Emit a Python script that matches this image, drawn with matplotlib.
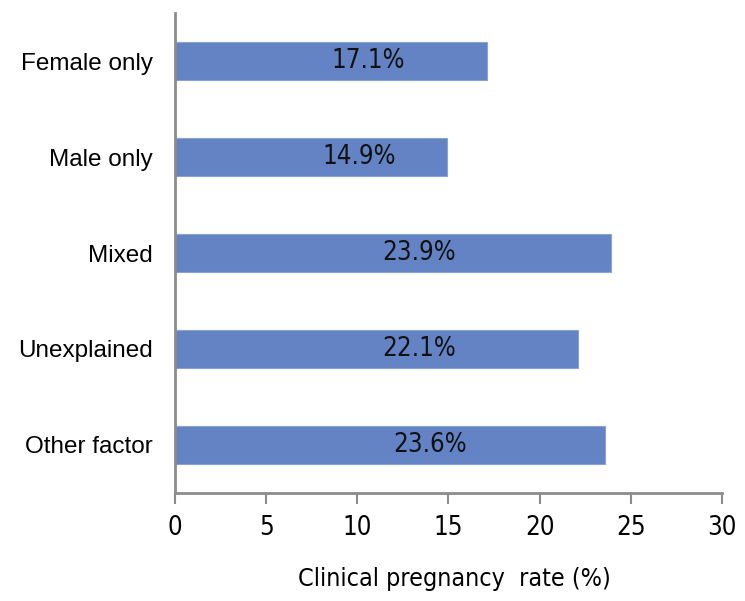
import matplotlib.pyplot as plt
from matplotlib import font_manager

categories = ["Female only", "Male only", "Mixed", "Unexplained", "Other factor"]
rates = [17.1, 14.9, 23.9, 22.1, 23.6]
xticks = [0, 5, 10, 15, 20, 25, 30]
# where the value labels sit inside the bars
label_x = [10.6, 10.1, 13.4, 13.4, 14.0]

cond = font_manager.FontProperties(family="DejaVu Sans", stretch="condensed", size=18.5)
cond_lbl = font_manager.FontProperties(family="DejaVu Sans", stretch="condensed", size=18)

fig = plt.figure(figsize=(7.45, 6.01), dpi=100)
ax = fig.add_axes([0.235, 0.18, 0.734, 0.798])

ypos = list(range(len(categories)))
ax.barh(ypos, rates, height=0.4, color="#6383c5", edgecolor="#8aa3d6", linewidth=0.8, zorder=2)

for y, v, lx in zip(ypos, rates, label_x):
    ax.text(lx, y, f"{v}%", ha="center", va="center", fontproperties=cond, color="#111111")

ax.set_xlim(0, 30)
ax.set_ylim(4.5, -0.5)
ax.set_xticks(xticks)
ax.set_xticklabels([str(t) for t in xticks], fontproperties=cond)
ax.set_yticks(ypos)
ax.set_yticklabels(categories, fontsize=17.5, family="Liberation Sans")
ax.tick_params(axis="y", length=0, pad=16)
ax.tick_params(axis="x", length=8, width=1.5, color="#8c8c8c", pad=8)
ax.set_xlabel("Clinical pregnancy  rate (%)", fontproperties=cond_lbl)
ax.xaxis.set_label_coords(0.51, -0.155)

for s in ["top", "right"]:
    ax.spines[s].set_visible(False)
for s in ["left", "bottom"]:
    ax.spines[s].set_color("#8c8c8c")
    ax.spines[s].set_linewidth(2)

fig.savefig("out.png", dpi=100)
